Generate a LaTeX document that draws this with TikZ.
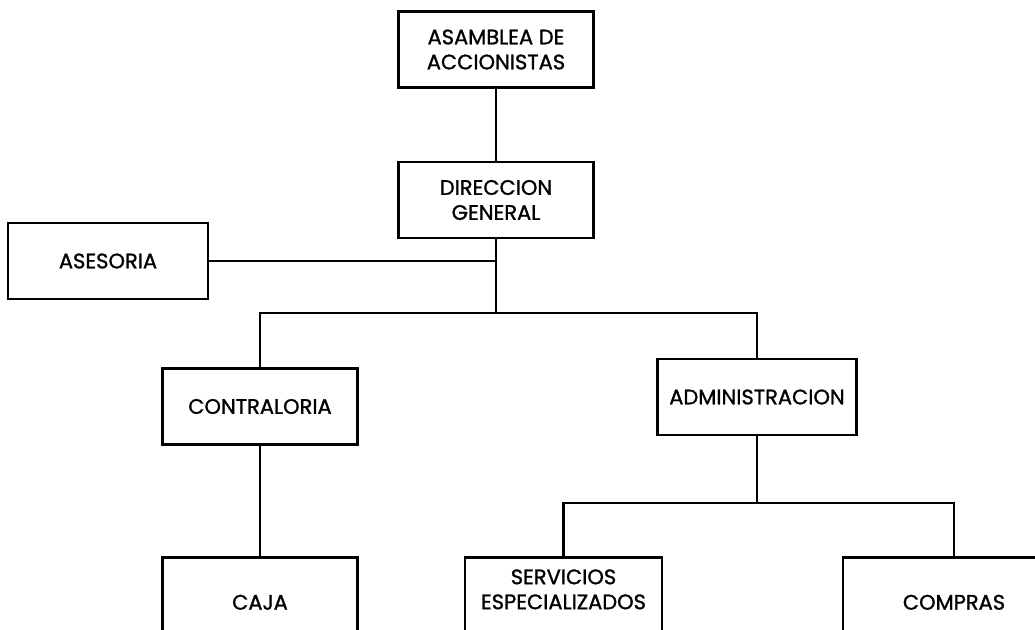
\documentclass[tikz,border=0pt]{standalone}
\usepackage{fontspec}
\setmainfont{Poppins}[FakeBold=1.2]
\begin{document}
\begin{tikzpicture}
    [%%%%%%%%%%%%%%%%%%%%%%%%%%%%%%
        x=1pt, y=-1pt,
        box/.style={rectangle,draw=black,line width=2.6pt,minimum width=195pt,minimum height=76pt,
                    align=center,font=\fontsize{21}{25}\selectfont},
        link/.style={draw=black,line width=2.4pt},
    ]%%%%%%%%%%%%%%%%%%%%%%%%%%%%%%
\useasboundingbox (0,0) rectangle (1035,629);
\clip (0,0) rectangle (1035,629);
% boxes
\node[box] (asamblea) at (496,49.5) {ASAMBLEA DE\\ACCIONISTAS};
\node[box] (direccion) at (496,200) {DIRECCION\\GENERAL};
\node[box, minimum width=200pt] (asesoria) at (108,261) {ASESORIA};
\node[box] (contraloria) at (260,406.5) {CONTRALORIA};
\node[box, minimum width=199pt] (administracion) at (757,397) {ADMINISTRACION};
\node[box, minimum height=90pt, anchor=north] (caja) at (260,556) {CAJA};
\node[box, minimum width=197pt, minimum height=90pt, anchor=north, text depth=26pt] (servicios) at (563.5,556) {SERVICIOS\\ESPECIALIZADOS};
\node[box, minimum width=222pt, minimum height=90pt, anchor=north] (compras) at (954,556) {COMPRAS};
% levels of the horizontal bars
\coordinate (barA) at (0,313);
\coordinate (barB) at (0,503);
% connectors
\draw[link] (asamblea) -- (direccion);
\draw[link] (direccion.south) -- (direccion.south |- barA);
\draw[draw=black,line width=1.4pt] (asesoria.east) -- (asesoria.east -| direccion.south);
\draw[link] (contraloria.north) |- (direccion.south |- barA) -| (administracion.north);
\draw[link] (contraloria) -- (caja);
\draw[link] (administracion.south) -- (administracion.south |- barB);
\draw[link] (servicios.north) |- (administracion.south |- barB) -| (compras.north);
\end{tikzpicture}
\end{document}
